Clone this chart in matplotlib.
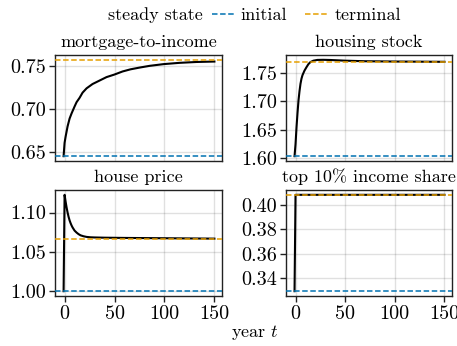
import matplotlib
matplotlib.use("Agg")
import matplotlib.pyplot as plt
from matplotlib.lines import Line2D

plt.rcParams['font.family'] = 'serif'
plt.rcParams['font.serif'] = ['cmr10']
plt.rcParams['mathtext.fontset'] = 'cm'
plt.rcParams['axes.formatter.use_mathtext'] = True
plt.rcParams['font.size'] = 13
plt.rcParams['axes.titlesize'] = 13

# transition paths (years after the shock) and steady-state levels
t_mti = [-1, 0, 1, 2, 3, 5, 7, 10, 12, 15, 18, 22, 28, 35, 42, 50, 58, 66, 75, 85, 99, 115, 132, 150]
mti = [0.6455, 0.661, 0.668, 0.674, 0.680, 0.689, 0.695, 0.703, 0.708, 0.713, 0.719, 0.724,
       0.729, 0.733, 0.737, 0.740, 0.7435, 0.746, 0.748, 0.750, 0.752, 0.7535, 0.7545, 0.755]

t_hs = [-1, 0, 1, 2, 3, 4, 5, 6, 7, 8, 9, 11, 13, 15, 18, 22, 28, 35, 50, 70, 100, 150]
hs = [1.604, 1.625, 1.655, 1.680, 1.702, 1.718, 1.731, 1.740, 1.746, 1.750, 1.754, 1.760,
      1.7655, 1.769, 1.7715, 1.7728, 1.773, 1.7727, 1.7715, 1.7705, 1.770, 1.7695]

t_hp = [-1, 0, 1, 2, 3, 4, 5, 6, 7, 8, 9, 10, 12, 14, 16, 19, 22, 26, 30, 40, 60, 100, 150]
hp = [1.000, 1.1225, 1.114, 1.1065, 1.100, 1.0945, 1.090, 1.0865, 1.0835, 1.081, 1.079, 1.077,
      1.0745, 1.0725, 1.071, 1.0698, 1.069, 1.0685, 1.0683, 1.068, 1.0677, 1.0673, 1.0668]

t_top = [-1, 0, 150]
top10 = [0.3293, 0.4082, 0.4082]

titles = ["mortgage-to-income", "housing stock", "house price", "top 10% income share"]
paths = [(t_mti, mti), (t_hs, hs), (t_hp, hp), (t_top, top10)]
ss_initial = [0.6455, 1.604, 1.000, 0.3293]
ss_terminal = [0.757, 1.7697, 1.0668, 0.4082]
yticks = [[0.65, 0.70, 0.75], [1.60, 1.65, 1.70, 1.75], [1.00, 1.05, 1.10], [0.34, 0.36, 0.38, 0.40]]
xticks = [0, 50, 100, 150]

BLUE = '#0072B2'
ORANGE = '#E69F00'
dash = (0, (3.6, 1.7))
TICK_FS = 14.5

W, H = 457, 346
fig = plt.figure(figsize=(W / 100, H / 100), dpi=100)

# axes boxes in pixels: left, top, right, bottom
boxes = [(55, 55, 222, 161), (286, 55, 452, 161),
         (55, 190, 222, 296), (286, 190, 452, 296)]

for i, (l, tp, r, b) in enumerate(boxes):
    ax = fig.add_axes([l / W, 1 - b / H, (r - l) / W, (b - tp) / H])
    t, y = paths[i]
    ax.plot(t, y, color='black', lw=1.5, zorder=3)
    ax.axhline(ss_initial[i], color=BLUE, lw=1.1, ls=dash, zorder=4)
    ax.axhline(ss_terminal[i], color=ORANGE, lw=1.1, ls=dash, zorder=4)

    ax.set_xlim(-9.6, 157.6)
    ax.margins(y=0.05)
    ax.set_xticks(xticks)
    ax.set_xticklabels([str(v) for v in xticks], fontsize=TICK_FS)
    ax.set_yticks(yticks[i])
    ax.set_yticklabels(["%.2f" % v for v in yticks[i]], fontsize=TICK_FS)
    ax.grid(True, color='black', alpha=0.12, lw=1)
    ax.set_axisbelow(True)
    for s in ax.spines.values():
        s.set_color('#222222')
        s.set_linewidth(1.0)
    ax.tick_params(direction='out', length=4.5, width=1.0, color='#222222', pad=2)
    if i < 2:
        ax.tick_params(axis='x', bottom=False, labelbottom=False)
    ax.set_title(titles[i], pad=5.8)

# legend row
fig.text(203 / W, 1 - 15 / H, "steady state", ha='right', va='center')
handles = [Line2D([], [], color=BLUE, lw=1.1, ls=dash),
           Line2D([], [], color=ORANGE, lw=1.1, ls=dash)]
fig.legend(handles, ["initial", "terminal"], loc='center left',
           bbox_to_anchor=(212 / W, 1 - 15 / H), ncol=2, frameon=False,
           borderpad=0, borderaxespad=0, handlelength=1.2, handletextpad=0.4,
           columnspacing=1.0)

fig.text(255 / W, 1 - 333 / H, "year $t$", ha='center', va='center')

fig.savefig("out.png", dpi=100)
